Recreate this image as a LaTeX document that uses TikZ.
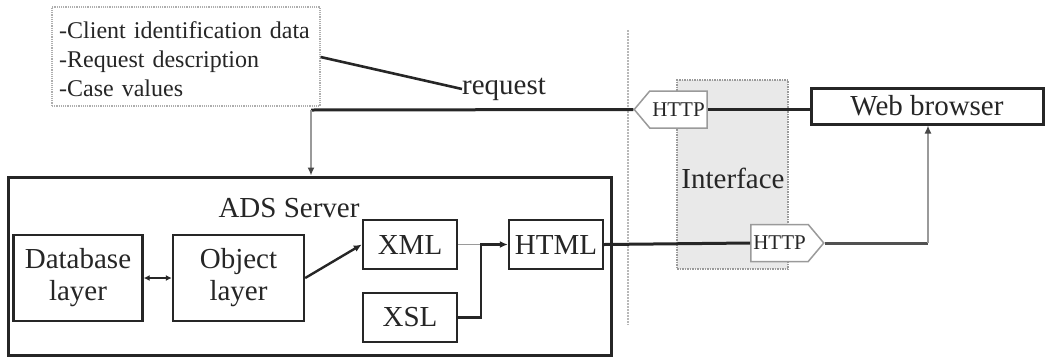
\documentclass[tikz,border=0pt]{standalone}
\usepackage{fontspec}
\setmainfont{Liberation Serif}
\usetikzlibrary{arrows.meta,shapes.symbols}
\definecolor{ink}{HTML}{262626}
\definecolor{soft}{HTML}{9A9A9A}
\definecolor{pane}{HTML}{E9E9E9}
\begin{document}
\begin{tikzpicture}[x=1pt,y=-1pt,
  big/.style={font=\fontsize{29}{35}\selectfont},
  small/.style={font=\fontsize{24}{29}\selectfont},
  tag/.style={font=\fontsize{21}{25}\selectfont},
  block/.style={draw=ink, line width=2.4pt, fill=white, text=ink, align=center, inner sep=0pt, big},
  frame/.style={draw=ink, line width=3pt, inner sep=0pt},
  httptag/.style={signal, draw=soft, line width=1.5pt, fill=white, text=ink, tag,
    signal pointer angle=100, minimum width=73pt, minimum height=37pt, inner sep=0pt},
  heavy/.style={draw=ink, line width=3pt},
  thinarrow/.style={draw=soft, line width=1.5pt, -{Latex[length=8pt,width=7pt,color=ink!85]}},
  tip/.style={-{Latex[length=8pt,width=7pt]}}
]
\useasboundingbox (0,0) rectangle (1045,357);

% client-side interface pane and divider
\node[draw=soft, densely dotted, line width=1.5pt, fill=pane, minimum width=111pt, minimum height=189pt, inner sep=0pt] (iface) at (732.5,174.5) {};
\node[big, text=ink] (ifacelbl) at (733,178) {Interface};
\coordinate (divtop) at (628,30);
\coordinate (divbot) at (628,325);
\draw[soft!70, densely dotted, line width=2pt] (divtop) -- (divbot);

% request contents
\node[draw=soft!80, densely dotted, line width=1.2pt, minimum width=268pt, minimum height=99pt, inner sep=0pt] (info) at (186,56.5) {};
\node[small, text=ink, align=left, anchor=west, text width=258pt, inner sep=0pt] (infotext) at (59,59)
  {-Client identification data\\-Request description\\-Case values};
\node[big, text=ink, inner sep=0pt, anchor=west] (req) at (462,89) {request};

% server
\node[frame, minimum width=603pt, minimum height=178pt] (ads) at (309.5,266) {};
\node[big, text=ink] (adslbl) at (289,208) {ADS Server};
\node[block, minimum width=129pt, minimum height=86pt] (db) at (78,278) {Database\\[-3pt]layer};
\node[block, minimum width=131pt, minimum height=86pt] (obj) at (238.5,278) {Object\\[-3pt]layer};
\node[block, minimum width=94pt, minimum height=49pt] (xml) at (410,244.5) {XML};
\node[block, minimum width=94pt, minimum height=49pt] (xsl) at (410,317.5) {XSL};
\node[block, minimum width=94pt, minimum height=49pt] (html) at (556,244.5) {HTML};

% browser and HTTP transport
\node[frame, fill=white, big, text=ink, minimum width=232pt, minimum height=36pt] (web) at (927,106) {Web browser};
\node[httptag, signal to=west] (httpin) at (678.5,109.5) {HTTP};
\node[httptag, signal to=east] (httpout) at (779.5,243) {HTTP};

% connectors
\coordinate (split) at (311,110);
\coordinate (merge) at (481,244.5);
\coordinate (corner) at (928,243);

\draw[heavy, line width=2.6pt] (info.east |- 0,57) -- (req.west);
\draw[heavy] (split) -- (httpin.west);
\draw[heavy] (httpin.east) -- (web.west |- httpin.east);
\draw[thinarrow] (split) -- (split |- ads.north);

\draw[ink, line width=2pt, {Latex[length=6pt,width=6pt]}-{Latex[length=6pt,width=6pt]}] (db.east) -- (obj.west);
\draw[heavy, line width=2.4pt, tip] (obj.east) -- (xml.west);
\draw[soft, line width=1.5pt] (xml.east) -- (merge);
\draw[heavy, line width=2.4pt, tip] (xsl.east) -| (merge) -- (html.west);

\draw[heavy] (html.east) -- (httpout.west);
\draw[draw=ink!80, line width=3pt] (httpout.east) -- (corner);
\draw[thinarrow] (corner) -- (corner |- web.south);
\end{tikzpicture}
\end{document}
